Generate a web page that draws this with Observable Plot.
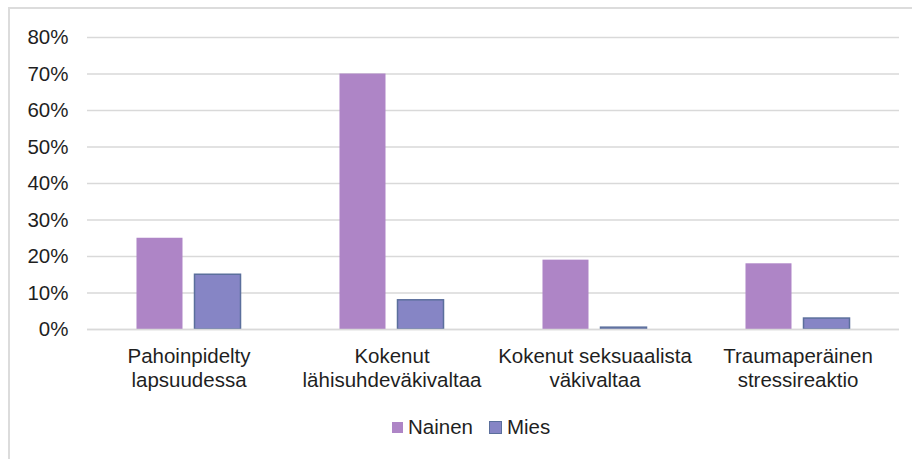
<!DOCTYPE html>
<html>
<head>
<meta charset="utf-8">
<script src="https://cdn.jsdelivr.net/npm/d3@7"></script>
<script src="https://cdn.jsdelivr.net/npm/@observablehq/plot@0.6"></script>
<style>
  html, body { margin: 0; padding: 0; background: #fff; }
  body { width: 912px; height: 459px; position: relative; overflow: hidden; font-family: "Liberation Sans", Arial, sans-serif; }
  #frame { position: absolute; left: 8px; top: 7px; width: 910px; height: 460px; border-top: 2px solid #dcdcdc; border-left: 2px solid #dcdcdc; box-sizing: border-box; }
  #chart { position: absolute; left: 0; top: 0; }
  #legend { position: absolute; left: 392px; top: 415px; display: flex; align-items: center; font-size: 20.5px; color: #1f1f1f; line-height: 24px; }
  .item { display: flex; align-items: center; margin-right: 16px; }
  .sw { width: 11px; height: 11px; margin-right: 5px; box-sizing: border-box; }
</style>
</head>
<body>
<div id="frame"></div>
<div id="chart"></div>
<div id="legend"></div>
<script>
const categories = ["Pahoinpidelty\nlapsuudessa", "Kokenut\nlähisuhdeväkivaltaa", "Kokenut seksuaalista\nväkivaltaa", "Traumaperäinen\nstressireaktio"];
const seriesNames = ["Nainen", "Mies"];
const nainen = [25, 70, 19, 18];
const mies = [15, 8, 0.5, 3];
const yTicks = [0, 10, 20, 30, 40, 50, 60, 70, 80];
const colors = ["#ae85c6", "#8685c5"];
const strokes = [null, "#5b6f9c"];

const data = [];
categories.forEach((c, i) => {
  data.push({category: c, series: seriesNames[0], value: nainen[i]});
  data.push({category: c, series: seriesNames[1], value: mies[i]});
});

const plot = Plot.plot({
  width: 912,
  height: 400,
  marginTop: 37,
  marginBottom: 71,
  marginLeft: 87,
  marginRight: 13,
  style: {fontFamily: "'Liberation Sans', Arial, sans-serif", fontSize: "20.5px", color: "#1f1f1f", background: "transparent"},
  fx: {domain: categories, padding: 0, round: false, label: null, axis: null},
  x: {domain: seriesNames, paddingInner: 0.207, paddingOuter: 0.853, round: false, axis: null},
  y: {domain: [0, 80], label: null},
  color: {domain: seriesNames, range: colors},
  marks: [
    Plot.gridY(yTicks, {stroke: "#d9d9d9", strokeOpacity: 1, strokeWidth: 1.5}),
    Plot.barY(data, {filter: d => d.series === seriesNames[0], fx: "category", x: "series", y: "value", fill: "series"}),
    Plot.barY(data, {filter: d => d.series === seriesNames[1], fx: "category", x: "series", y: "value", fill: "series",
      stroke: strokes[1], strokeWidth: 1.5}),
    Plot.ruleY([0], {stroke: "#d9d9d9", strokeWidth: 1.5}),
    Plot.axisY(yTicks, {tickSize: 0, tickPadding: 19, tickFormat: d => d + "%", label: null, fontSize: 20.5, fill: "#1f1f1f"}),
    Plot.axisFx({anchor: "bottom", tickSize: 0, tickPadding: 17, label: null, fontSize: 20.5, lineHeight: 1.15, fill: "#1f1f1f"})
  ]
});
document.getElementById("chart").appendChild(plot);

const legend = document.getElementById("legend");
seriesNames.forEach((s, i) => {
  const item = document.createElement("div");
  item.className = "item";
  const sw = document.createElement("div");
  sw.className = "sw";
  sw.style.background = colors[i];
  if (strokes[i]) { sw.style.border = "1.5px solid " + strokes[i]; sw.style.width = "13px"; sw.style.height = "13px"; }
  const t = document.createElement("span");
  t.textContent = s;
  item.appendChild(sw);
  item.appendChild(t);
  legend.appendChild(item);
});
</script>
</body>
</html>
